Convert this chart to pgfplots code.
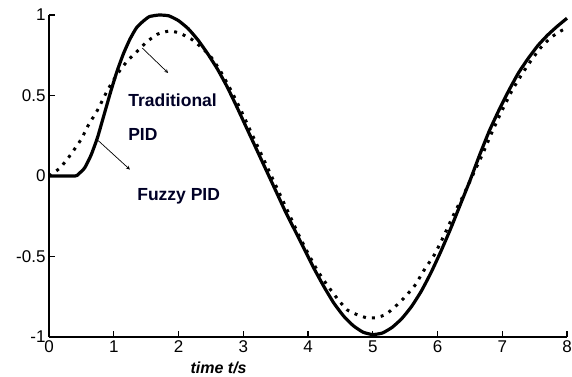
\documentclass[border=0pt]{standalone}
\usepackage{fontspec}
\setmainfont{Liberation Sans}
\usepackage{pgfplots}
\pgfplotsset{compat=1.18}
\begin{document}
\begin{tikzpicture}[x=1pt,y=1pt]
\begin{axis}[
  at={(49pt,39pt)}, anchor=south west,
  width=518pt, height=322pt, scale only axis,
  xmin=0, xmax=8, ymin=-1, ymax=1,
  axis lines=left, axis line style={-, line width=1.6pt},
  tick align=inside, major tick length=6pt,
  every tick/.style={line width=1.4pt, black},
  xtick={0,1,2,3,4,5,6,7,8},
  xticklabels={0,1,2,3,4,5,6,7,8},
  ytick={-1,-0.5,0,0.5,1},
  yticklabels={-1,-0.5,0,0.5,1},
  tick label style={font=\fontsize{17}{20}\selectfont},
  clip=false,
]
\addplot[black, line width=3.2pt, line join=round, smooth, tension=0.3] coordinates {
(0,0) (0.4,0) (0.45,0.01) (0.55,0.05) (0.65,0.13) (0.75,0.24) (0.85,0.38) (0.95,0.52)
(1.05,0.65) (1.15,0.76) (1.25,0.85) (1.35,0.92) (1.45,0.96) (1.55,0.99) (1.7,1.0)
(1.85,0.995) (2.0,0.965) (2.15,0.915) (2.3,0.845) (2.45,0.76) (2.6,0.665) (2.75,0.555)
(2.9,0.43) (3.05,0.3) (3.2,0.17) (3.35,0.04) (3.5,-0.09) (3.65,-0.22) (3.8,-0.34)
(3.95,-0.46) (4.1,-0.58) (4.25,-0.69) (4.4,-0.79) (4.55,-0.87) (4.7,-0.93) (4.85,-0.97)
(5.0,-0.985) (5.15,-0.975) (5.3,-0.94) (5.45,-0.885) (5.6,-0.81) (5.75,-0.715) (5.9,-0.6)
(6.05,-0.47) (6.2,-0.33) (6.35,-0.18) (6.5,-0.03) (6.65,0.13) (6.8,0.28) (6.95,0.41)
(7.1,0.53) (7.25,0.64) (7.4,0.73) (7.55,0.81) (7.7,0.875) (7.85,0.93) (8.0,0.98)
};
\addplot[black, line width=3pt, dash pattern=on 3pt off 6pt, smooth, tension=0.3] coordinates {
(0,0) (0.17,0.05) (0.33,0.13) (0.5,0.23) (0.6,0.31) (0.75,0.41) (0.9,0.53) (1.05,0.63)
(1.2,0.71) (1.35,0.77) (1.5,0.83) (1.67,0.88) (1.85,0.9) (2.0,0.89) (2.2,0.85)
(2.35,0.8) (2.5,0.74) (2.65,0.65) (2.8,0.54) (2.95,0.42) (3.1,0.29) (3.25,0.16)
(3.4,0.03) (3.55,-0.1) (3.7,-0.23) (3.85,-0.36) (4.0,-0.48) (4.15,-0.59) (4.3,-0.68)
(4.45,-0.76) (4.6,-0.83) (4.75,-0.86) (4.9,-0.88) (5.05,-0.88) (5.2,-0.86) (5.35,-0.81)
(5.5,-0.75) (5.65,-0.68) (5.8,-0.58) (5.95,-0.49) (6.1,-0.37) (6.25,-0.24) (6.4,-0.12)
(6.55,0.01) (6.7,0.14) (6.85,0.28) (7.0,0.41) (7.15,0.53) (7.3,0.63) (7.45,0.72)
(7.6,0.8) (7.75,0.86) (7.9,0.9) (8.0,0.92)
};
\draw[-stealth, line width=0.7pt] (axis cs:1.44,0.795) -- (axis cs:1.84,0.64);
\draw[-stealth, line width=0.7pt] (axis cs:0.76,0.22) -- (axis cs:1.25,0.04);
\node[anchor=west, font=\fontsize{17.5}{20}\selectfont\bfseries, text=black!85!blue] at (axis cs:1.17,0.47) {Traditional};
\node[anchor=west, font=\fontsize{17.5}{20}\selectfont\bfseries, text=black!85!blue] at (axis cs:1.17,0.255) {PID};
\node[anchor=west, font=\fontsize{17.5}{20}\selectfont\bfseries, text=black!85!blue] at (axis cs:1.31,-0.124) {Fuzzy PID};
\node[font=\fontsize{16}{18}\selectfont\bfseries\itshape, yshift=-31pt] at (axis cs:2.62,-1) {time t/s};
\end{axis}
\pgfresetboundingbox
\path[use as bounding box] (0,0) rectangle (572,376);
\end{tikzpicture}
\end{document}
